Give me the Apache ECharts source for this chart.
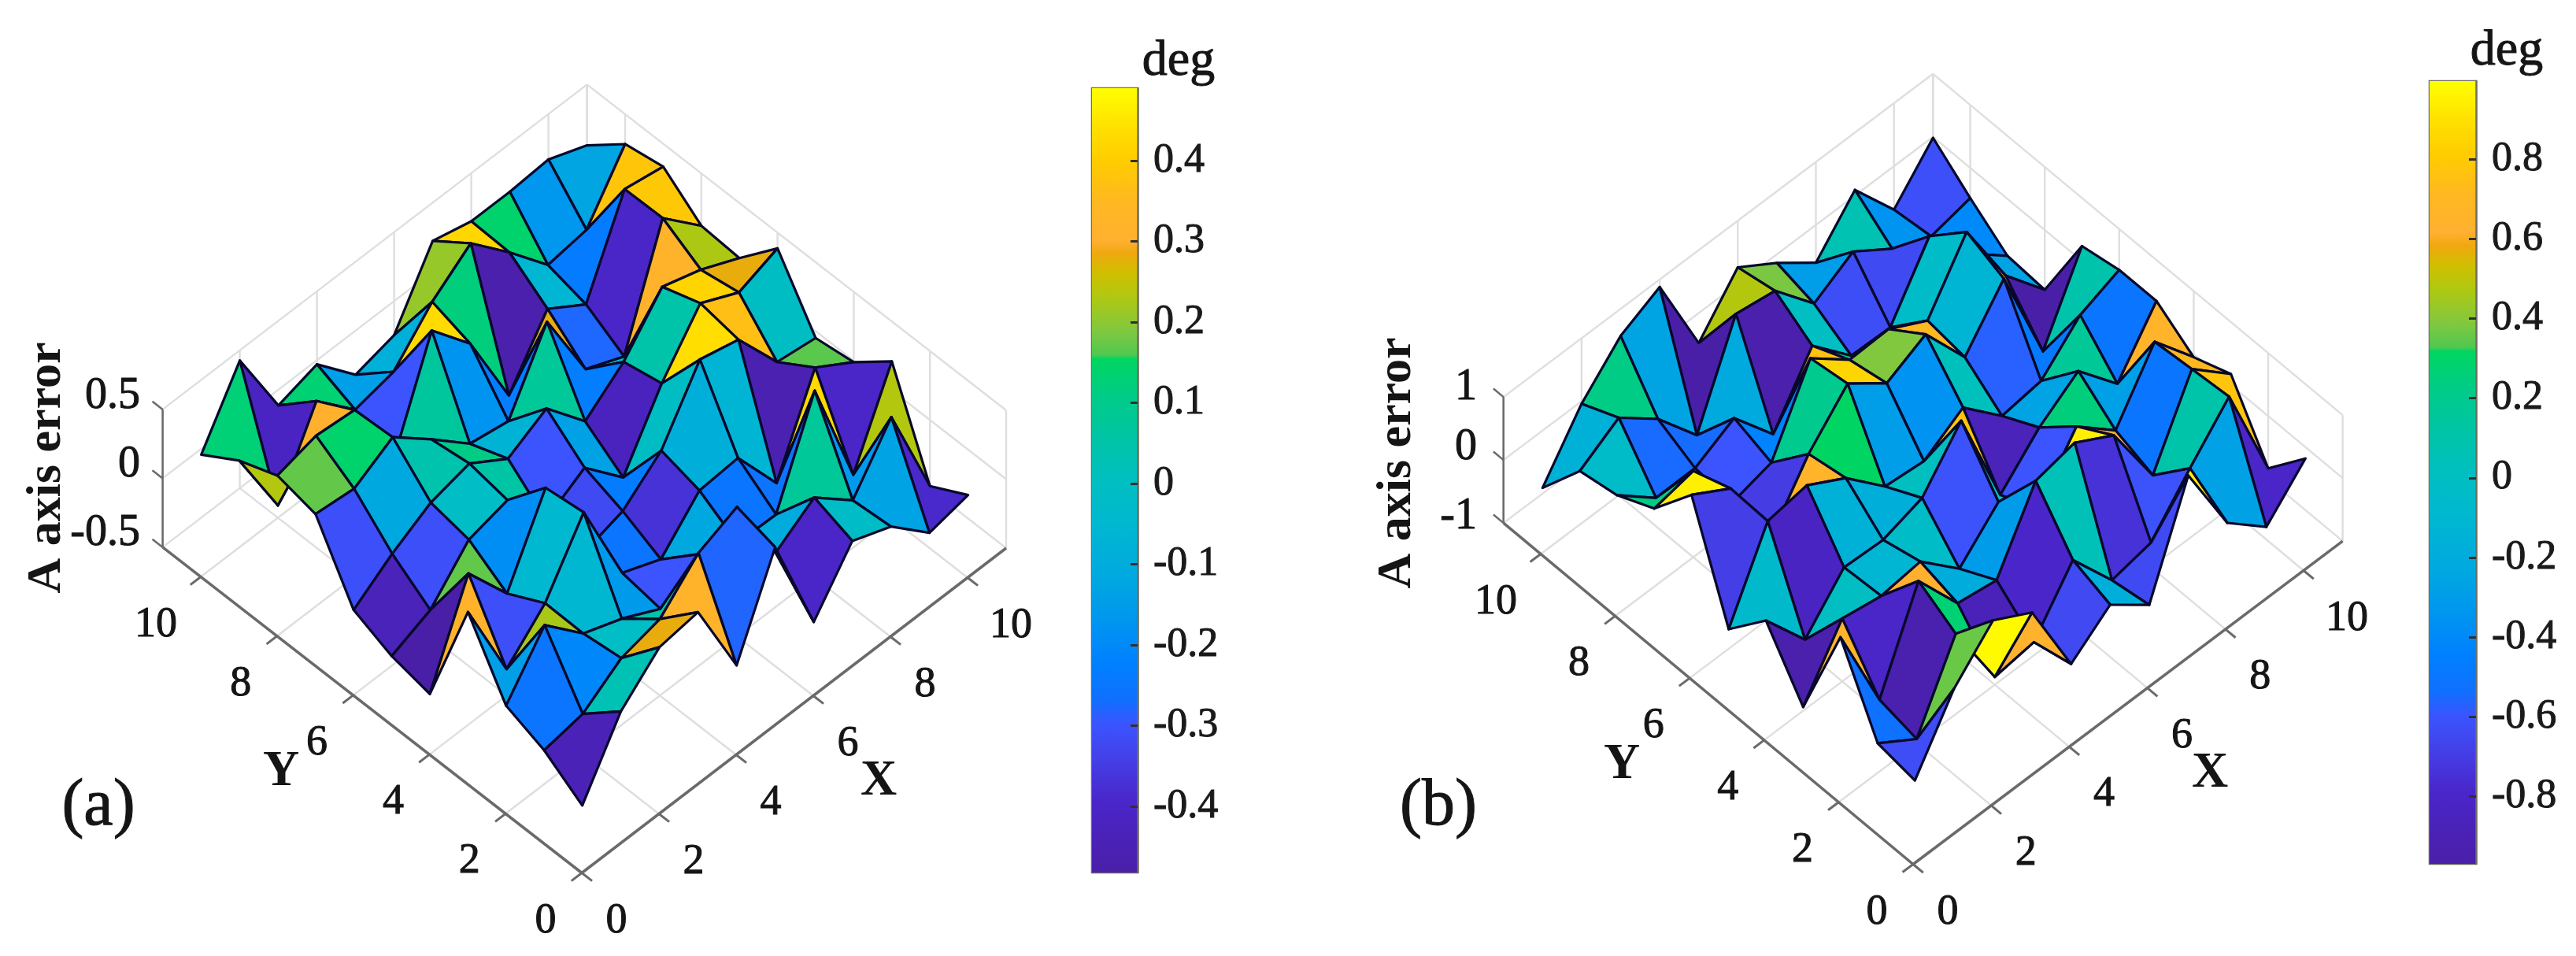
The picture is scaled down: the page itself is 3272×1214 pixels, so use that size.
<!DOCTYPE html>
<html><head><meta charset="utf-8">
<style>html,body{margin:0;padding:0;background:#fff}#c{width:3272px;height:1214px;filter:blur(.7px)}</style>
<script src="https://cdn.jsdelivr.net/npm/echarts@6/dist/echarts.min.js"></script>
</head><body><div id="c"></div>
<script>
// surface heights, rows y=1..11, columns x=1..11
const zA = [
[-.44,.029,.28,.32,-.28,.363,-.394,-.02,-.13,-.39,-.33],
[-.254,-.205,-.014,.055,.32,.44,-.106,.08,-.155,.235,-.48],
[-.145,.225,-.05,-.157,-.30,-.117,-.25,-.258,.426,-.40,.21],
[.32,-.31,-.045,.40,-.254,-.37,-.085,-.063,-.46,.165,-.01],
[-.49,.17,-.19,.363,-.32,-.235,-.01,.437,.366,-.01,-.05],
[-.43,-.31,-.014,.059,-.3,-.135,-.42,.049,.416,.28,.386],
[-.31,-.117,.04,.11,-.07,.08,-.227,-.01,.32,.23,.1],
[.171,.14,.3,.07,-.176,-.227,.28,-.278,-.40,.39,.12],
[.235,.31,.283,-.3,.43,.12,-.47,-.055,-.237,.385,.334],
[.129,-.41,.133,-.145,-.083,.21,.42,.14,-.166,-.125,.283],
[-.043,.426,-.114,-.03,-.32,-.247,.223,.151,.151,.171,.059]];
const zB = [
[-.63,.36,.98,.64,-.645,-.17,-.64,.95,-.27,-.8,-.18],
[-.53,-.93,.275,-.875,-.79,.046,-.74,-.61,.105,.775,-.83],
[.66,-.8,.62,-.2,-.3,.81,.95,.6,-.5,.72,.175],
[-.94,0,-.11,-.03,-.61,-.017,-.6,.25,-.28,.66,-.05],
[-.06,-.83,-.15,-.18,.02,.78,-.865,-.26,.17,-.5,.35],
[-.69,.56,.66,.31,-.29,-.355,.03,-.57,-.48,.10,.35],
[.95,.585,-.7,.2,.85,.39,.7,-.13,.65,-.97,.236],
[.24,.37,-.6,-.43,.76,.27,.29,-.04,.9,-.26,-.95],
[-.04,-.55,-.545,-.216,-.94,0,-.625,-.64,.34,-.4,-.905],
[-.15,.23,-.255,-.98,.48,.38,-.29,.07,-.35,-.62,-.48],
[-.91,-.04,.57,.88,-.476,.26,-.136,-.6,.09,-.69,-.015]];
const xyTicks = [0,2,4,6,8,10];
const zTicksA = [-0.5,0,0.5], zTicksB = [-1,0,1];
const cbTicksA = [-0.4,-0.3,-0.2,-0.1,0,0.1,0.2,0.3,0.4];
const cbTicksB = [-0.8,-0.6,-0.4,-0.2,0,0.2,0.4,0.6,0.8];
const cbRangeA = [-0.482,0.49], cbRangeB = [-0.969,0.996];
const cmapPos = [0,.088,.146,.19,.22,.267,.318,.375,.447,.5,.55,.61,.655,.66,.69,.735,.765,.79,.806,.856,.906,.95,1];
const cmapCol = ['#4A1FA8','#4A25C8','#4440E8','#3A55FF','#1070FF','#0080FF','#0095F0','#00A8E0','#00B8D0','#00BFC0','#00C4A8','#00CC85','#00D660','#50C850','#80C840','#B0C810','#D0BE00','#F0A810','#FFB030','#FFB820','#FFCC00','#FFE000','#FFFF00'];

const hex=c=>[1,3,5].map(i=>parseInt(c.substr(i,2),16));
function cmap(t){t=Math.max(0,Math.min(1,t));let i=0;while(i<cmapPos.length-2&&t>cmapPos[i+1])i++;
 const f=(t-cmapPos[i])/(cmapPos[i+1]-cmapPos[i]),a=hex(cmapCol[i]),b=hex(cmapCol[i+1]);
 return 'rgb('+a.map((v,k)=>Math.round(v+(b[k]-v)*f)).join(',')+')';}

const panels=[
 {Z:zA,o:[739,1108.5],ux:[49,-37.5],uy:[-48.4,-37.6],zr:[-0.5,0.5],zh:175,zt:zTicksA,cb:cbRangeA},
 {Z:zB,o:[2430,1097.5],ux:[49.6,-37.3],uy:[-47.3,-39.4],zr:[-1,1],zh:160,zt:zTicksB,cb:cbRangeB}];
panels.forEach(p=>{p.proj=(x,y,z)=>[p.o[0]+p.ux[0]*x+p.uy[0]*y,
  p.o[1]+p.ux[1]*x+p.uy[1]*y-(z-p.zr[0])/(p.zr[1]-p.zr[0])*p.zh];});

function faces(p){const out=[];for(let s=20;s>=2;s--)for(let x=1;x<=10;x++){const y=s-x;if(y>=1&&y<=10)out.push([x,y]);}return out;}
function surfSeries(p){return{type:'custom',coordinateSystem:'cartesian2d',xAxisIndex:0,yAxisIndex:0,clip:false,silent:true,animation:false,progressive:0,z:5,
 data:faces(p),
 renderItem(params,api){const x=api.value(0),y=api.value(1),Z=p.Z;
  const v=[[x,y],[x+1,y],[x+1,y+1],[x,y+1]].map(q=>api.coord(p.proj(q[0],q[1],Z[q[1]-1][q[0]-1])));
  const t=(Z[y-1][x-1]-p.cb[0])/(p.cb[1]-p.cb[0]);
  return{type:'polygon',shape:{points:v},style:{fill:cmap(t),stroke:'#08082a',lineWidth:3.2,lineJoin:'round'}};}};}
function wire(p){const L=[],M=11,a=p.zr[0],b=p.zr[1],g='#dedede';
 const add=(A,B,c,w)=>L.push({A,B,c,w});
 xyTicks.concat([M]).forEach(t=>{
  add([t,M,a],[t,M,b],g,2.4);add([M,t,a],[M,t,b],g,2.4);
  if(t!==M){add([t,0,a],[t,M,a],g,2.4);add([0,t,a],[M,t,a],g,2.4);}});
 p.zt.forEach(z=>{add([0,M,z],[M,M,z],g,2.4);add([M,M,z],[M,0,z],g,2.4);});
 const d='#6a6a6a';
 add([0,0,a],[0,M,a],d,3.5);add([0,0,a],[M,0,a],d,3.5);add([0,M,a],[0,M,b],d,2.5);
 xyTicks.forEach(t=>{add([t,0,a],[t,-.27,a],d,3);add([0,t,a],[-.27,t,a],d,3);});
 p.zt.forEach(z=>add([0,M,z],[0,M+.27,z],d,2.5));
 return L;}
function wireSeries(p){const L=wire(p);return{type:'custom',coordinateSystem:'cartesian2d',xAxisIndex:0,yAxisIndex:0,clip:false,silent:true,animation:false,progressive:0,z:2,
 data:L.map((_,i)=>[i]),renderItem(params,api){const l=L[api.value(0)],A=api.coord(p.proj(...l.A)),B=api.coord(p.proj(...l.B));
  return{type:'line',shape:{x1:A[0],y1:A[1],x2:B[0],y2:B[1]},style:{stroke:l.c,lineWidth:l.w}};}};}
// texts
const F='"Liberation Serif","Times New Roman",serif';
function tickTexts(p,ztx,zys){const T=[];xyTicks.forEach(t=>{const e=t===10?11:0;
  const a=p.proj(t,0,p.zr[0]);T.push({s:String(t),x:a[0]+44+e,y:a[1]+61,f:54});
  const b=p.proj(0,t,p.zr[0]);T.push({s:String(t),x:b[0]-46-e,y:b[1]+61,f:54});});
 p.zt.forEach((z,i)=>T.push({s:String(z),x:ztx,y:zys[i],f:56,al:'right'}));return T;}
const texts=[...tickTexts(panels[0],178,[677,590,503]),...tickTexts(panels[1],1876,[656,568,492]),
 {s:'A axis error',x:60,y:594,f:62,w:'bold',r:Math.PI/2},{s:'A axis error',x:1775,y:588,f:62,w:'bold',r:Math.PI/2},
 {s:'Y',x:357,y:980,f:64,w:'bold'},{s:'X',x:1116,y:992,f:64,w:'bold'},{s:'Y',x:2060,y:971,f:64,w:'bold'},{s:'X',x:2807,y:982,f:64,w:'bold'},
 {s:'(a)',x:125,y:1025,f:84},{s:'(b)',x:1827,y:1025,f:84},
 {s:'deg',x:1497,y:78,f:64},{s:'deg',x:3184,y:65,f:64}];
const textSeries={type:'custom',coordinateSystem:'cartesian2d',xAxisIndex:0,yAxisIndex:0,clip:false,silent:true,animation:false,progressive:0,z:8,
 data:texts.map((_,i)=>[i]),renderItem(params,api){const t=texts[api.value(0)],c=api.coord([t.x,t.y]);
  return{type:'text',x:c[0],y:c[1],rotation:t.r||0,style:{text:t.s,fill:'#151515',stroke:'#151515',lineWidth:t.w?0:1,font:(t.w||'normal')+' '+t.f+'px '+F,textAlign:t.al||'center',textVerticalAlign:'middle'}};}};
function cbSeries(idx,r){return{type:'custom',coordinateSystem:'cartesian2d',xAxisIndex:idx,yAxisIndex:idx,silent:true,animation:false,z:3,
 data:[[0,r[0],1,r[1]]],renderItem(params,api){const a=api.coord([0,r[1]]),b=api.coord([1,r[0]]);
  return{type:'rect',shape:{x:a[0],y:a[1],width:b[0]-a[0],height:b[1]-a[1]},
   style:{fill:new echarts.graphic.LinearGradient(0,1,0,0,cmapPos.map((o,i)=>({offset:o,color:cmapCol[i]})))}};}};}
function cbY(idx,r,t){return{type:'value',gridIndex:idx,position:'right',min:r[0],max:r[1],z:6,
 axisLine:{show:true,onZero:false,lineStyle:{color:'#6f6f5f',width:2.5}},splitLine:{show:false},
 axisTick:{show:true,inside:true,length:9,customValues:t,lineStyle:{color:'#303030',width:3}},
 axisLabel:{show:true,customValues:t,margin:20,fontSize:52,fontFamily:F,color:'#1a1a1a',textBorderColor:'#1a1a1a',textBorderWidth:1,formatter:v=>String(v)}};}
const hiddenX=i=>({type:'value',gridIndex:i,min:0,max:1,show:false});
const opt={animation:false,backgroundColor:'#fff',
 grid:[{left:0,top:0,width:3272,height:1214,show:false},
  {left:1387,top:112,width:58,height:996,show:true,borderColor:'#6f6f5f',borderWidth:2.5,backgroundColor:'transparent'},
  {left:3086,top:103,width:59,height:994,show:true,borderColor:'#6f6f5f',borderWidth:2.5,backgroundColor:'transparent'}],
 xAxis:[{type:'value',gridIndex:0,min:0,max:3272,show:false},hiddenX(1),hiddenX(2)],
 yAxis:[{type:'value',gridIndex:0,min:0,max:1214,inverse:true,show:false},cbY(1,cbRangeA,cbTicksA),cbY(2,cbRangeB,cbTicksB)],
 series:[wireSeries(panels[0]),wireSeries(panels[1]),surfSeries(panels[0]),surfSeries(panels[1]),cbSeries(1,cbRangeA),cbSeries(2,cbRangeB),textSeries]};
echarts.init(document.getElementById('c'),null,{renderer:'canvas'}).setOption(opt);
</script></body></html>
